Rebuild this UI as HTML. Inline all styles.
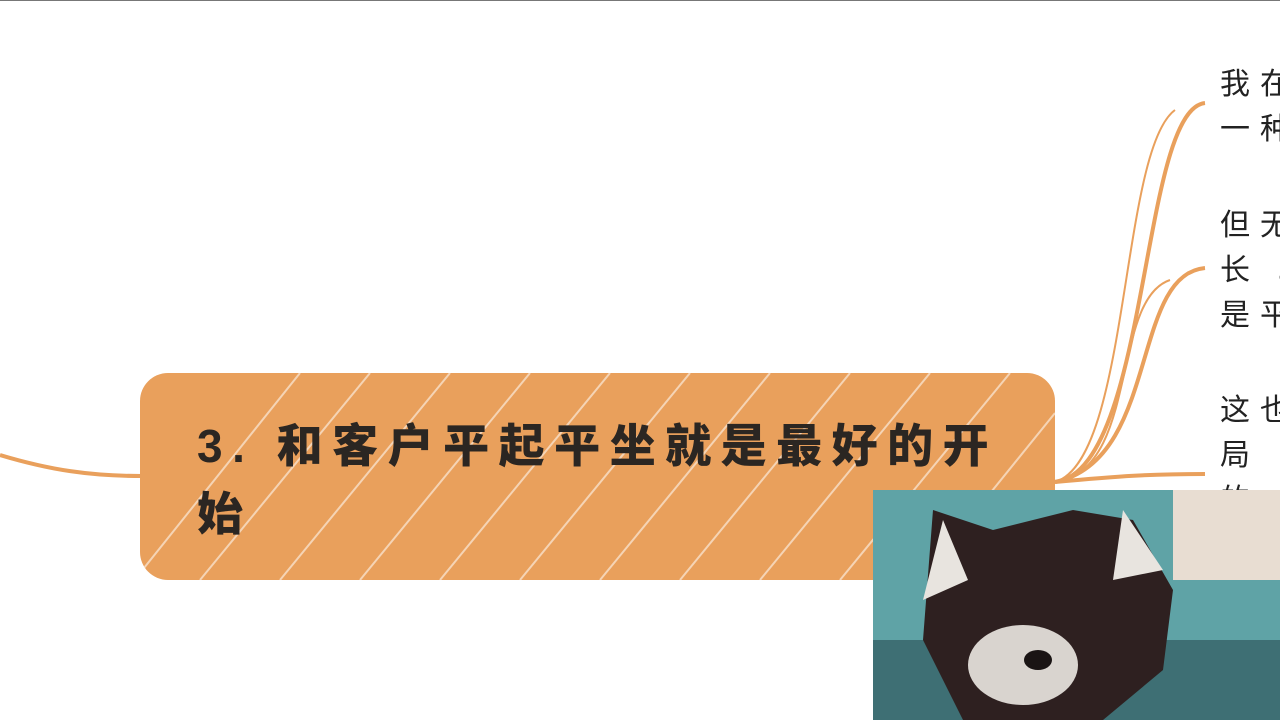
<!DOCTYPE html>
<html><head><meta charset="utf-8">
<style>
html,body{margin:0;padding:0;width:1280px;height:720px;overflow:hidden;background:#fff;}
body{position:relative;font-family:"Liberation Sans","Noto Sans CJK SC",sans-serif;}
.box{position:absolute;left:140px;top:373px;width:915px;height:207px;background:#E9A05C;border-radius:28px;overflow:hidden;}
.title{position:absolute;left:197px;top:412px;font-size:46px;font-weight:900;color:#2b2622;line-height:68px;letter-spacing:9.5px;width:830px;}
.rt{position:absolute;left:1220px;font-size:30px;color:#222;letter-spacing:10px;white-space:nowrap;line-height:45px;}
</style></head><body>
<div style="position:absolute;left:0;top:0;width:1280px;height:1px;background:#777;"></div>
<svg width="1280" height="720" style="position:absolute;left:0;top:0">
<path d="M0,455 C50,470 90,476 142,476" stroke="#E9A05C" stroke-width="4" fill="none"/>
<path d="M1055,482 C1150,470 1140,110 1205,103" stroke="#E9A05C" stroke-width="4" fill="none"/>
<path d="M1055,482 C1130,460 1120,150 1175,110" stroke="#E9A05C" stroke-width="2" fill="none"/>
<path d="M1055,482 C1160,460 1130,275 1205,268" stroke="#E9A05C" stroke-width="4" fill="none"/>
<path d="M1055,482 C1140,470 1110,300 1170,280" stroke="#E9A05C" stroke-width="2" fill="none"/>
<path d="M1055,482 C1120,476 1150,474 1205,474" stroke="#E9A05C" stroke-width="4" fill="none"/>
</svg>
<div class="box">
<svg width="915" height="207" style="position:absolute;left:0;top:0">
<g stroke="#fff" stroke-width="2" opacity="0.55">
<line x1="0" y1="200" x2="160" y2="0"/><line x1="60" y1="207" x2="230" y2="0"/>
<line x1="140" y1="207" x2="310" y2="0"/><line x1="220" y1="207" x2="390" y2="0"/>
<line x1="300" y1="207" x2="470" y2="0"/><line x1="380" y1="207" x2="550" y2="0"/>
<line x1="460" y1="207" x2="630" y2="0"/><line x1="540" y1="207" x2="710" y2="0"/>
<line x1="620" y1="207" x2="790" y2="0"/><line x1="700" y1="207" x2="870" y2="0"/>
<line x1="780" y1="207" x2="915" y2="40"/>
</g></svg>
</div>
<div class="title">3. 和客户平起平坐就是最好的开始</div>
<div class="rt" style="top:62px">我在<br>一种</div>
<div class="rt" style="top:203px">但无<br>长 。<br>是平</div>
<div class="rt" style="top:388px">这也<br>局 ，<br>的</div>
<svg width="407" height="230" style="position:absolute;left:873px;top:490px">
<rect width="407" height="230" fill="#5fa3a6"/>
<rect x="300" y="0" width="107" height="90" fill="#e8ddd2"/>
<rect x="0" y="150" width="407" height="80" fill="#3e6f74"/>
<path d="M60,20 L120,40 L200,20 L260,30 L300,100 L290,180 L230,230 L90,230 L50,150 Z" fill="#2e2020"/>
<path d="M70,30 L95,90 L50,110 Z" fill="#e8e4df"/>
<path d="M250,20 L290,80 L240,90 Z" fill="#e8e4df"/>
<ellipse cx="150" cy="175" rx="55" ry="40" fill="#d9d4cf"/>
<ellipse cx="165" cy="170" rx="14" ry="10" fill="#1a1414"/>
</svg>
</body></html>
